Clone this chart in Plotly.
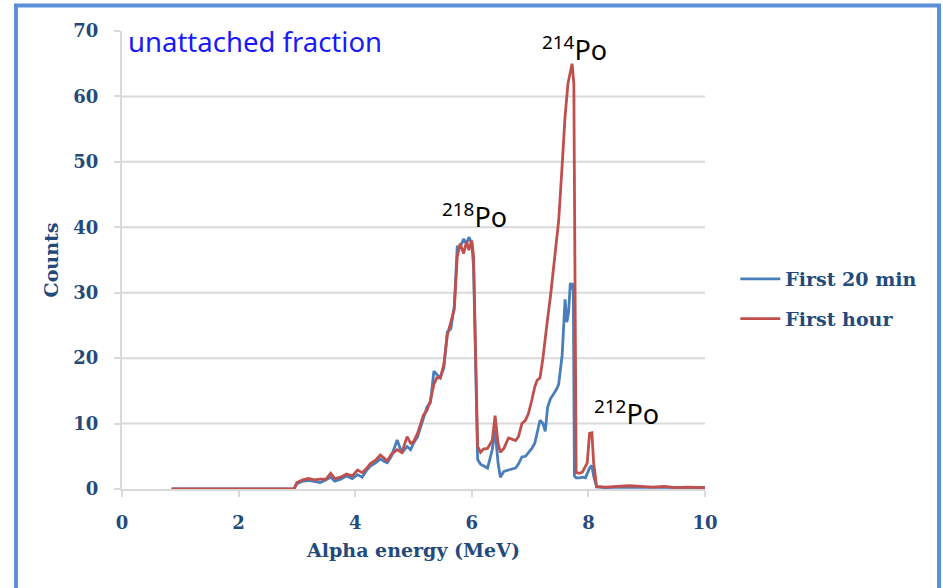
import plotly.graph_objects as go

# ---- data ----
energy_hour = [0.85, 2.95, 3.0, 3.1, 3.2, 3.3, 3.4, 3.5, 3.58, 3.65, 3.75, 3.85, 3.95, 4.04, 4.12,
               4.2, 4.26, 4.35, 4.43, 4.5, 4.55, 4.62, 4.72, 4.8, 4.89, 4.95, 5.0, 5.07, 5.12, 5.17,
               5.23, 5.29, 5.35, 5.4, 5.46, 5.52, 5.58, 5.64, 5.7, 5.75, 5.8, 5.86, 5.91, 5.95, 6.0,
               6.03, 6.1, 6.15, 6.2, 6.27, 6.35, 6.4, 6.45, 6.49, 6.55, 6.63, 6.7, 6.75, 6.8, 6.86,
               6.92, 6.97, 7.03, 7.08, 7.12, 7.17, 7.22, 7.26, 7.3, 7.35, 7.4, 7.45, 7.49, 7.55, 7.6,
               7.65, 7.69, 7.72, 7.75, 7.77, 7.79, 7.85, 7.9, 7.95, 7.98, 8.02, 8.06, 8.09, 8.14,
               8.3, 8.5, 8.7, 8.9, 9.1, 9.3, 9.5, 9.7, 9.9, 10.0]
counts_hour = [0, 0, 1.0, 1.4, 1.6, 1.4, 1.5, 1.5, 2.4, 1.6, 1.8, 2.3, 2.0, 2.9, 2.5,
               3.2, 3.9, 4.4, 5.2, 4.6, 4.3, 5.3, 6.0, 5.6, 8.0, 7.0, 7.2, 8.5, 10.0, 11.3,
               12.0, 13.5, 16.0, 17.0, 17.0, 19.0, 23.5, 25.5, 27.5, 35.5, 37.5, 36.0, 37.8, 36.5, 38.0,
               35.6, 6.5, 5.6, 6.1, 6.2, 7.4, 11.2, 7.0, 5.6, 6.2, 7.8, 7.5, 7.4, 8.0, 10.0,
               10.5, 11.5, 13.6, 15.6, 16.6, 17.0, 20.0, 22.6, 26.0, 29.5, 34.0, 38.0, 41.0, 49.5, 57.0,
               62.0, 64.0, 65.0, 62.0, 30.0, 2.5, 2.4, 2.6, 3.5, 4.0, 8.5, 8.6, 4.0, 0.4,
               0.3, 0.4, 0.5, 0.4, 0.3, 0.4, 0.2, 0.3, 0.2, 0.2]

energy_20min = [0.85, 2.95, 3.0, 3.1, 3.2, 3.3, 3.4, 3.5, 3.58, 3.65, 3.75, 3.85, 3.95, 4.04, 4.12,
                4.2, 4.26, 4.35, 4.43, 4.5, 4.55, 4.62, 4.72, 4.8, 4.89, 4.95, 5.0, 5.07, 5.12, 5.17,
                5.23, 5.29, 5.35, 5.4, 5.46, 5.52, 5.58, 5.64, 5.7, 5.75, 5.8, 5.86, 5.91, 5.95, 6.0,
                6.03, 6.1, 6.15, 6.2, 6.27, 6.35, 6.4, 6.45, 6.49, 6.55, 6.63, 6.7, 6.75, 6.8, 6.86,
                6.92, 6.97, 7.03, 7.08, 7.12, 7.17, 7.22, 7.26, 7.3, 7.35, 7.4, 7.45, 7.49, 7.55, 7.6,
                7.63, 7.66, 7.69, 7.72, 7.74, 7.76, 7.79, 7.85, 7.9, 7.95, 7.98, 8.02, 8.06, 8.09, 8.14,
                8.3, 8.5, 8.7, 8.9, 9.1, 9.3, 9.5, 9.7, 9.9, 10.0]
counts_20min = [0, 0, 0.8, 1.2, 1.3, 1.2, 1.0, 1.4, 1.8, 1.2, 1.5, 2.0, 1.6, 2.2, 1.8,
                2.9, 3.5, 4.0, 4.6, 4.2, 4.0, 5.0, 7.5, 5.5, 6.5, 6.0, 7.0, 8.0, 9.5, 11.0,
                12.5, 13.2, 18.0, 17.5, 17.0, 18.5, 24.0, 24.5, 28.0, 37.0, 37.0, 38.2, 37.5, 38.5, 37.5,
                34.0, 4.5, 3.8, 3.6, 3.2, 6.0, 9.0, 4.0, 1.8, 2.7, 2.9, 3.0, 3.2, 3.8, 4.9,
                5.0, 5.6, 6.2, 7.0, 8.5, 10.5, 10.0, 8.8, 12.5, 13.8, 14.5, 15.2, 16.0, 20.5, 29.0,
                25.5, 27.0, 31.5, 30.5, 31.5, 2.0, 1.7, 1.7, 1.8, 1.7, 2.4, 3.2, 3.6, 2.0, 0.3,
                0.2, 0.3, 0.3, 0.2, 0.2, 0.3, 0.2, 0.2, 0.2, 0.2]

series_names = ["First 20 min", "First hour"]
x_ticks = [0, 2, 4, 6, 8, 10]
y_ticks = [0, 10, 20, 30, 40, 50, 60, 70]
peak_labels = ["<sup>218</sup>Po", "<sup>214</sup>Po", "<sup>212</sup>Po"]

# ---- styles ----
BLUE = "#4A7EBB"
RED = "#C0504D"
GRID = "#D9D9D9"
TXT = "#244A7C"
SERIF = "DejaVu Serif"

fig = go.Figure()
fig.add_trace(go.Scatter(x=energy_20min, y=counts_20min, mode="lines", name=series_names[0],
                         legendgroup="a", line=dict(color=BLUE, width=2.8)))
fig.add_trace(go.Scatter(x=energy_hour, y=counts_hour, mode="lines", name=series_names[1],
                         legendgroup="b", line=dict(color=RED, width=2.8)))

for v in y_ticks[1:-1]:
    fig.add_hline(y=v, line=dict(color=GRID, width=2), layer="below")

# peak labels
label_pos = [(6.05, 41.8), (7.76, 67.4), (8.65, 11.7)]
for txt, (lx, ly) in zip(peak_labels, label_pos):
    fig.add_annotation(x=lx, y=ly, xref="x", yref="y", text=txt, showarrow=False,
                       font=dict(family="Noto Sans", size=27, color="black"))

fig.add_annotation(x=0.007, y=0.976, xref="paper", yref="paper", xanchor="left", yanchor="middle",
                   text="unattached fraction", showarrow=False,
                   font=dict(family="Noto Sans", size=27.5, color="#1A1AF5"))

# outer frame
fig.add_shape(type="rect", xref="paper", yref="paper", x0=-0.1818, x1=1.4014, y0=-0.3, y1=1.0557,
              line=dict(color="#5B8FD8", width=4), fillcolor="rgba(0,0,0,0)", layer="below")

fig.update_layout(
    width=943, height=588,
    margin=dict(l=122, r=238, t=31, b=99),
    plot_bgcolor="white", paper_bgcolor="white",
    showlegend=True,
    legend=dict(x=1.052, y=0.5, xanchor="left", yanchor="top",
                traceorder="grouped", tracegroupgap=12, itemwidth=40,
                font=dict(family=SERIF, size=19, color=TXT, weight="bold"),
                bgcolor="rgba(0,0,0,0)"),
    xaxis=dict(range=[0, 10], tickvals=x_ticks, showgrid=False, zeroline=False,
               showline=True, linecolor=GRID, linewidth=2,
               ticks="outside", ticklen=6, tickcolor=GRID, tickwidth=2,
               ticklabelstandoff=10,
               tickfont=dict(family=SERIF, size=18, color=TXT, weight="bold"),
               title=dict(text="Alpha energy (MeV)", standoff=12,
                          font=dict(family=SERIF, size=19, color=TXT, weight="bold"))),
    yaxis=dict(range=[0, 70], tickvals=y_ticks, showgrid=False, zeroline=False,
               showline=True, linecolor=GRID, linewidth=2,
               ticks="outside", ticklen=6, tickcolor=GRID, tickwidth=2,
               ticklabelstandoff=12,
               tickfont=dict(family=SERIF, size=18, color=TXT, weight="bold"),
               title=dict(text="Counts", standoff=10,
                          font=dict(family=SERIF, size=19, color=TXT, weight="bold"))),
)

fig.write_html("out.html", config={"displayModeBar": False},
               post_script="document.body.style.margin='0';document.body.style.overflow='hidden';")
